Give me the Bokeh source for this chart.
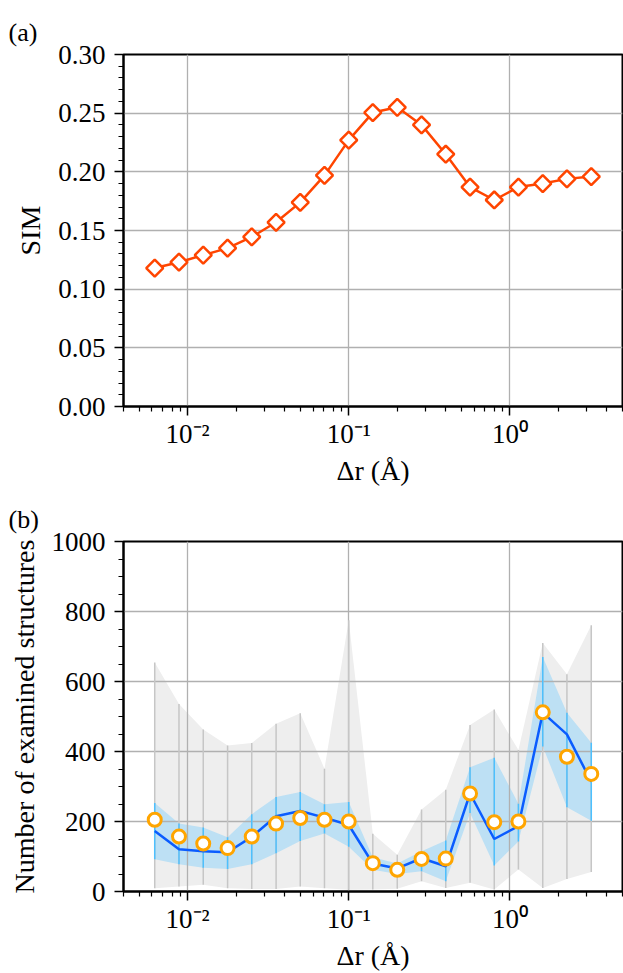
from bokeh.plotting import figure
from bokeh.layouts import column
from bokeh.models import Range1d, FixedTicker, NumeralTickFormatter, CustomJSTickFormatter
from bokeh.embed import file_html
from bokeh.resources import INLINE

# ---- data ----
dr = [0.00625, 0.00884, 0.0125, 0.0177, 0.025, 0.0354, 0.05, 0.0707, 0.1, 0.141,
      0.2, 0.283, 0.4, 0.566, 0.8, 1.13, 1.6, 2.26, 3.2]
sim = [0.118, 0.123, 0.129, 0.135, 0.1445, 0.157, 0.174, 0.197, 0.227, 0.2505,
       0.255, 0.240, 0.215, 0.187, 0.176, 0.187, 0.190, 0.194, 0.196]

n_mean = [205, 157, 137, 124, 157, 194, 210, 205, 200, 81, 62, 93, 94, 280, 198, 200, 512, 385, 336]
n_median = [173, 121, 115, 112, 156, 215, 230, 211, 190, 80, 66, 95, 72, 280, 150, 187, 511, 449, 314]
blue_lo = [92, 78, 68, 64, 78, 109, 144, 166, 128, 62, 50, 58, 29, 224, 74, 143, 414, 241, 202]
blue_hi = [253, 194, 183, 155, 221, 270, 284, 249, 256, 98, 80, 115, 146, 355, 382, 251, 670, 511, 425]
grey_lo = [9, 14, 19, 9, 7, 7, 14, 9, 5, 6, 8, 29, 10, 25, 6, 63, 10, 36, 56]
grey_hi = [654, 536, 463, 417, 424, 479, 509, 351, 775, 165, 105, 234, 291, 476, 520, 404, 710, 621, 761]

x_major = [0.001, 0.01, 0.1, 1.0, 10.0]
x_minor = [m * d for d in [0.001, 0.01, 0.1, 1.0] for m in range(2, 10)]
sim_ticks = [0.0, 0.05, 0.10, 0.15, 0.20, 0.25, 0.30]
sim_minor = [i / 100 for i in range(0, 31)]
n_ticks = [0, 200, 400, 600, 800, 1000]
n_minor = list(range(0, 1001, 50))

FONT = "Liberation Serif"
TICK_SIZE = "27px"
LABEL_SIZE = "28px"

sup_fmt = CustomJSTickFormatter(code="""
const e = Math.round(Math.log10(tick));
const sup = {'-':'\u207b','0':'\u2070','1':'\u00b9','2':'\u00b2','3':'\u00b3'};
const s = String(e).split('').map(c => sup[c]).join('');
return '10' + s;
""")


def style(p, yticks, yminor, yfmt, tag):
    p.xaxis.ticker = FixedTicker(ticks=x_major, minor_ticks=x_minor)
    p.xaxis.formatter = sup_fmt
    p.yaxis.ticker = FixedTicker(ticks=yticks, minor_ticks=yminor)
    p.yaxis.formatter = NumeralTickFormatter(format=yfmt)
    for ax in [p.xaxis, p.yaxis]:
        ax.axis_line_width = 2
        ax.axis_line_color = "black"
        ax.major_tick_out = 9
        ax.major_tick_in = 0
        ax.major_tick_line_width = 1.5
        ax.minor_tick_out = 5
        ax.minor_tick_in = 0
        ax.minor_tick_line_width = 1.2
        ax.major_label_text_font = FONT
        ax.major_label_text_font_size = TICK_SIZE
        ax.major_label_text_color = "black"
        ax.axis_label_text_font = FONT
        ax.axis_label_text_font_size = LABEL_SIZE
        ax.axis_label_text_font_style = "normal"
        ax.axis_label_text_color = "black"
    p.xaxis.major_label_standoff = 3
    p.yaxis.major_label_standoff = 9
    p.xaxis.axis_label_standoff = 3
    p.yaxis.axis_label_standoff = 9
    p.outline_line_color = "black"
    p.outline_line_width = 2
    p.outline_line_alpha = 1
    for g in [p.xgrid, p.ygrid]:
        g.grid_line_color = "#b0b0b0"
        g.grid_line_width = 1.3
        g.level = "underlay"
    p.xgrid.ticker = FixedTicker(ticks=x_major)
    p.ygrid.ticker = FixedTicker(ticks=yticks)
    p.background_fill_color = "white"
    p.border_fill_color = "white"
    p.title.text = tag
    p.title.align = "left"
    p.title.vertical_align = "top"
    p.title.offset = -115
    p.title.text_font = FONT
    p.title.text_font_size = "26px"
    p.title.text_font_style = "normal"
    p.title.text_color = "black"
    p.title.standoff = 12


# ---- panel (a) ----
pa = figure(width=623, height=490, x_axis_type="log", output_backend="svg", toolbar_location=None,
            x_range=Range1d(0.004, 5.0), y_range=Range1d(0, 0.30),
            min_border_left=123, min_border_right=1, min_border_top=54, min_border_bottom=84)
style(pa, sim_ticks, sim_minor, "0.00", "(a)")
pa.xaxis.axis_label = "\u0394r (\u00c5)"
pa.yaxis.axis_label = "SIM"
pa.line(dr, sim, line_color="#ff4500", line_width=2.5)
pa.scatter(dr, sim, marker="square", angle=0.7854, size=12, fill_color="white",
           line_color="#ff4500", line_width=2.5)

# ---- panel (b) ----
pb = figure(width=623, height=483, x_axis_type="log", output_backend="svg", toolbar_location=None,
            x_range=Range1d(0.004, 5.0), y_range=Range1d(0, 1000),
            min_border_left=123, min_border_right=1, min_border_top=51, min_border_bottom=81)
style(pb, n_ticks, n_minor, "0", "(b)")
pb.xaxis.axis_label = "\u0394r (\u00c5)"
pb.yaxis.axis_label = "Number of examined structures"
pb.varea(x=dr, y1=grey_lo, y2=grey_hi, fill_color="#eeeeee", level="image")
pb.varea(x=dr, y1=blue_lo, y2=blue_hi, fill_color="#bde0f4", level="image")
pb.segment(x0=dr, y0=grey_lo, x1=dr, y1=grey_hi, line_color="#c6c6c6", line_width=1.5)
pb.segment(x0=dr, y0=blue_lo, x1=dr, y1=blue_hi, line_color="#4cc0ff", line_width=1.5)
pb.line(dr, n_median, line_color="#0a5cff", line_width=2.5)
pb.scatter(dr, n_mean, marker="circle", size=13, fill_color="white",
           line_color="#ffa500", line_width=3)

layout = column(pa, pb, spacing=0)
open("out.html", "w").write(file_html(layout, INLINE))
